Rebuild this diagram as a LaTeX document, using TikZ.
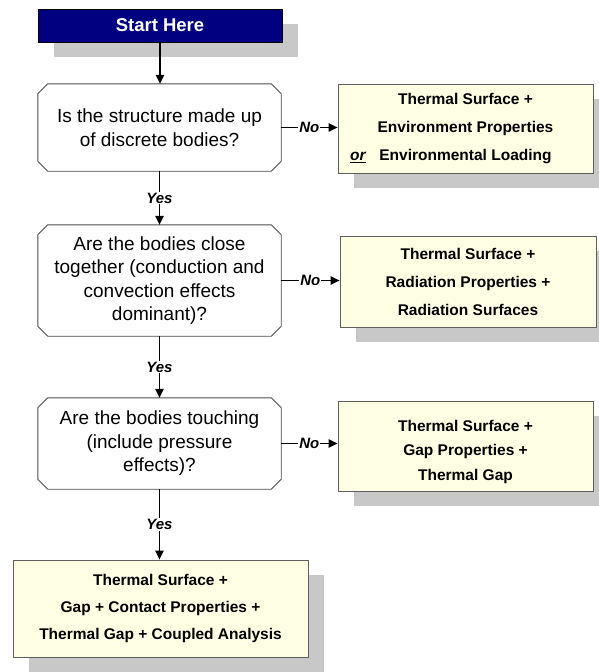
\documentclass[tikz,border=0pt]{standalone}
\usepackage{fontspec}
\setmainfont{Liberation Sans}
\usetikzlibrary{arrows.meta,shadows,backgrounds,calc}
\definecolor{navyblue}{RGB}{0,0,128}
\definecolor{shadowgray}{RGB}{200,200,200}
\definecolor{paleyellow}{RGB}{255,255,228}
\definecolor{edgegray}{RGB}{95,95,95}
\definecolor{decedge}{RGB}{80,80,80}
\tikzset{
  boxshadow/.style={general shadow={fill=shadowgray, shadow xshift=16pt, shadow yshift=-15pt}},
  startbox/.style={draw=black, line width=1pt, fill=navyblue, text=white, inner sep=0pt,
    font=\fontsize{18.5}{22}\selectfont\bfseries, boxshadow},
  decision/.style={inner sep=0pt, align=center, font=\fontsize{19}{23.5}\selectfont},
  resultbox/.style={draw=edgegray, line width=0.9pt, fill=paleyellow, inner sep=0pt, align=center,
    font=\fontsize{15.5}{28}\selectfont\bfseries, boxshadow},
  flow/.style={line width=1.2pt, -{Triangle[length=9pt,width=8.5pt]}},
  lbl/.style={font=\fontsize{15}{17}\selectfont\bfseries\itshape, fill=white, inner sep=1pt},
}
\newcommand\chamfpath[2]{%
  \path[#2] ([xshift=10pt]#1.north west) -- ([xshift=-10pt]#1.north east)
    -- ([yshift=-10pt]#1.north east) -- ([yshift=10pt]#1.south east)
    -- ([xshift=-10pt]#1.south east) -- ([xshift=10pt]#1.south west)
    -- ([yshift=10pt]#1.south west) -- ([yshift=-10pt]#1.north west) -- cycle;}
\begin{document}
\begin{tikzpicture}[x=1pt,y=-1pt]
\useasboundingbox (0,0) rectangle (598,672);
% nodes
\node[startbox, minimum width=244pt, minimum height=33pt] (start) at (160,25.5) {Start Here};
\node[decision, minimum width=243pt, minimum height=87pt] (d1) at (159.5,127.5)
  {Is the structure made up\\of discrete bodies?};
\node[decision, minimum width=243pt, minimum height=111pt] (d2) at (159.5,280.5)
  {Are the bodies close\\together (conduction and\\convection effects\\dominant)?};
\node[decision, minimum width=243pt, minimum height=91pt] (d3) at (159.5,443.5)
  {Are the bodies touching\\(include pressure\\effects)?};
\node[resultbox, minimum width=255pt, minimum height=89pt] (r1) at (465.5,128.5)
  {Thermal Surface +\\Environment Properties\\\llap{\underline{\textit{or}}\hspace{13pt}}Environmental Loading};
\node[resultbox, minimum width=256pt, minimum height=91pt] (r2) at (468,281.5)
  {Thermal Surface +\\Radiation Properties +\\Radiation Surfaces};
\node[resultbox, minimum width=255pt, minimum height=90pt, font=\fontsize{15.5}{24.5}\selectfont\bfseries] (r3) at (465.5,446)
  {\rule{0pt}{23pt}Thermal Surface +\\Gap Properties +\\Thermal Gap};
\node[resultbox, minimum width=295pt, minimum height=97pt, font=\fontsize{15.5}{27}\selectfont\bfseries] (r4) at (160.5,608.5)
  {Thermal Surface +\\Gap + Contact Properties +\\Thermal Gap + Coupled Analysis};
% decision outlines and shadows
\begin{scope}[on background layer]
  \foreach \n in {d1,d2,d3}{
    \chamfpath{\n}{fill=shadowgray, xshift=16pt, yshift=-15pt}
    \chamfpath{\n}{fill=white, draw=decedge, line width=0.9pt}
  }
\end{scope}
% connectors
\draw[flow] (start.south) -- (start.south |- d1.north);
\draw[flow] (d1.south) -- node[lbl]{Yes} (d2.north);
\draw[flow] (d2.south) -- node[lbl]{Yes} (d3.north);
\draw[flow] (d3.south) -- node[lbl]{Yes} (d3.south |- r4.north);
\draw[flow] (d1.east) -- node[lbl]{No} (d1.east -| r1.west);
\draw[flow] (d2.east) -- node[lbl]{No} (d2.east -| r2.west);
\draw[flow] (d3.east) -- node[lbl]{No} (d3.east -| r3.west);
\end{tikzpicture}
\end{document}
